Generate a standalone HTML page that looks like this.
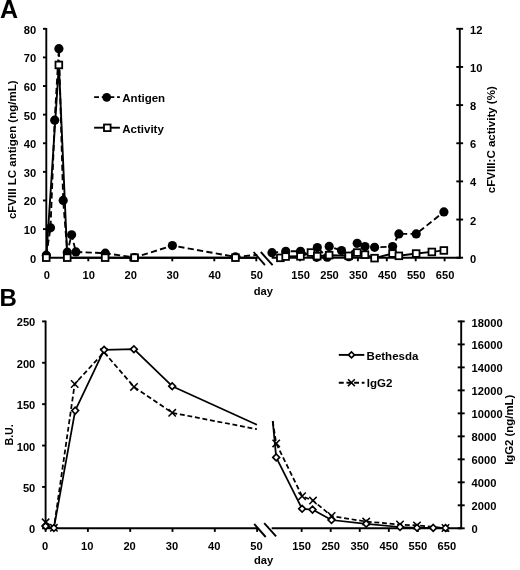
<!DOCTYPE html><html><head><meta charset="utf-8"><title>Figure</title>
<style>html,body{margin:0;padding:0;background:#fff;}svg{display:block;will-change:transform;}text{font-family:"Liberation Sans", sans-serif;font-weight:bold;fill:#000;}.t{font-size:11.5px;}.ax{stroke:#000;stroke-width:1.9;fill:none;stroke-linecap:butt;}.ln{stroke:#000;stroke-width:1.9;fill:none;stroke-linejoin:round;}.ds{stroke:#000;stroke-width:1.9;fill:none;stroke-dasharray:6.2 3.3;stroke-linejoin:round;}.lb{stroke-width:1.75;}.db{stroke-dasharray:4.9 2.75;}.sq{fill:#fff;stroke:#000;stroke-width:1.8;}.dm{fill:#fff;stroke:#000;stroke-width:1.65;}.xm{stroke:#000;stroke-width:1.5;fill:none;}</style></head><body>
<svg width="520" height="570" viewBox="0 0 520 570">
<rect width="520" height="570" fill="#fff"/>
<defs><filter id="soft" x="0" y="0" width="100%" height="100%" filterUnits="userSpaceOnUse" color-interpolation-filters="sRGB"><feGaussianBlur stdDeviation="0.35"/></filter></defs>
<g filter="url(#soft)">
<text x="-0.10" y="17.70" text-anchor="start" font-size="25" >A</text>
<line class="ax" x1="46.30" y1="28.00" x2="46.30" y2="258.50"/>
<line class="ax" x1="45.50" y1="257.70" x2="257.60" y2="257.70"/>
<line class="ax" x1="271.70" y1="257.70" x2="460.60" y2="257.70"/>
<line class="ax" x1="459.80" y1="28.00" x2="459.80" y2="258.50"/>
<line class="ax" x1="43.00" y1="257.70" x2="46.30" y2="257.70"/>
<text x="36.20" y="262.60" text-anchor="end" font-size="11.15" >0</text>
<line class="ax" x1="43.00" y1="229.09" x2="46.30" y2="229.09"/>
<text x="36.20" y="233.99" text-anchor="end" font-size="11.15" >10</text>
<line class="ax" x1="43.00" y1="200.47" x2="46.30" y2="200.47"/>
<text x="36.20" y="205.38" text-anchor="end" font-size="11.15" >20</text>
<line class="ax" x1="43.00" y1="171.86" x2="46.30" y2="171.86"/>
<text x="36.20" y="176.76" text-anchor="end" font-size="11.15" >30</text>
<line class="ax" x1="43.00" y1="143.25" x2="46.30" y2="143.25"/>
<text x="36.20" y="148.15" text-anchor="end" font-size="11.15" >40</text>
<line class="ax" x1="43.00" y1="114.64" x2="46.30" y2="114.64"/>
<text x="36.20" y="119.54" text-anchor="end" font-size="11.15" >50</text>
<line class="ax" x1="43.00" y1="86.03" x2="46.30" y2="86.03"/>
<text x="36.20" y="90.93" text-anchor="end" font-size="11.15" >60</text>
<line class="ax" x1="43.00" y1="57.41" x2="46.30" y2="57.41"/>
<text x="36.20" y="62.31" text-anchor="end" font-size="11.15" >70</text>
<line class="ax" x1="43.00" y1="28.80" x2="46.30" y2="28.80"/>
<text x="36.20" y="33.70" text-anchor="end" font-size="11.15" >80</text>
<line class="ax" x1="456.30" y1="257.70" x2="463.10" y2="257.70"/>
<text x="470.00" y="262.70" text-anchor="start" font-size="11.15" >0</text>
<line class="ax" x1="456.30" y1="219.55" x2="463.10" y2="219.55"/>
<text x="470.00" y="224.55" text-anchor="start" font-size="11.15" >2</text>
<line class="ax" x1="456.30" y1="181.40" x2="463.10" y2="181.40"/>
<text x="470.00" y="186.40" text-anchor="start" font-size="11.15" >4</text>
<line class="ax" x1="456.30" y1="143.25" x2="463.10" y2="143.25"/>
<text x="470.00" y="148.25" text-anchor="start" font-size="11.15" >6</text>
<line class="ax" x1="456.30" y1="105.10" x2="463.10" y2="105.10"/>
<text x="470.00" y="110.10" text-anchor="start" font-size="11.15" >8</text>
<line class="ax" x1="456.30" y1="66.95" x2="463.10" y2="66.95"/>
<text x="470.00" y="71.95" text-anchor="start" font-size="11.15" >10</text>
<line class="ax" x1="456.30" y1="28.80" x2="463.10" y2="28.80"/>
<text x="470.00" y="33.80" text-anchor="start" font-size="11.15" >12</text>
<line class="ax" x1="46.30" y1="257.70" x2="46.30" y2="261.30"/>
<text x="46.80" y="278.80" text-anchor="middle" font-size="11.15" >0</text>
<line class="ax" x1="88.30" y1="257.70" x2="88.30" y2="261.30"/>
<text x="88.80" y="278.80" text-anchor="middle" font-size="11.15" >10</text>
<line class="ax" x1="130.30" y1="257.70" x2="130.30" y2="261.30"/>
<text x="130.80" y="278.80" text-anchor="middle" font-size="11.15" >20</text>
<line class="ax" x1="172.30" y1="257.70" x2="172.30" y2="261.30"/>
<text x="172.80" y="278.80" text-anchor="middle" font-size="11.15" >30</text>
<line class="ax" x1="214.30" y1="257.70" x2="214.30" y2="261.30"/>
<text x="214.80" y="278.80" text-anchor="middle" font-size="11.15" >40</text>
<line class="ax" x1="256.30" y1="257.70" x2="256.30" y2="261.30"/>
<text x="256.80" y="278.80" text-anchor="middle" font-size="11.15" >50</text>
<line class="ax" x1="300.10" y1="257.70" x2="300.10" y2="261.30"/>
<text x="300.60" y="278.80" text-anchor="middle" font-size="11.15" >150</text>
<line class="ax" x1="329.00" y1="257.70" x2="329.00" y2="261.30"/>
<text x="329.50" y="278.80" text-anchor="middle" font-size="11.15" >250</text>
<line class="ax" x1="357.90" y1="257.70" x2="357.90" y2="261.30"/>
<text x="358.40" y="278.80" text-anchor="middle" font-size="11.15" >350</text>
<line class="ax" x1="386.80" y1="257.70" x2="386.80" y2="261.30"/>
<text x="387.30" y="278.80" text-anchor="middle" font-size="11.15" >450</text>
<line class="ax" x1="415.70" y1="257.70" x2="415.70" y2="261.30"/>
<text x="416.20" y="278.80" text-anchor="middle" font-size="11.15" >550</text>
<line class="ax" x1="444.60" y1="257.70" x2="444.60" y2="261.30"/>
<text x="445.10" y="278.80" text-anchor="middle" font-size="11.15" >650</text>
<text x="263.30" y="295.20" text-anchor="middle" font-size="11.15" >day</text>
<line class="ax" x1="253.60" y1="252.00" x2="265.00" y2="265.10"/>
<line class="ax" x1="260.80" y1="252.00" x2="272.60" y2="265.10"/>
<text class="t" transform="translate(16.3,149.8) rotate(-90)" text-anchor="middle" textLength="138.6" lengthAdjust="spacingAndGlyphs">cFVIII LC antigen (ng/mL)</text>
<text class="t" transform="translate(494.7,139.7) rotate(-90)" text-anchor="middle" textLength="107" lengthAdjust="spacingAndGlyphs">cFVIII:C activity (%)</text>
<polyline class="ln" points="46.3,257.7 58.9,65.0 67.3,257.7 105.1,257.7 134.5,257.7 235.4,257.7 257.3,257.7"/>
<polyline class="ds" points="46.3,255.2 50.5,227.8 54.7,120.2 58.9,48.7 63.2,200.4 67.3,252.2 71.6,234.8 75.9,251.9 105.3,253.2 134.5,257.5 172.4,245.6 235.4,256.9 257.3,254.9"/>
<polyline class="ln" points="280.4,257.9 285.7,256.5 300.5,256.3 311.0,252.5 317.3,256.2 329.2,255.2 348.7,255.8 357.3,252.6 365.0,254.7 374.6,258.1 392.6,253.5 398.9,255.8 416.2,253.5 431.9,251.9 443.9,250.4"/>
<polyline class="ds" points="272.0,252.7 285.8,251.3 300.5,251.3 316.6,257.3 317.3,247.6 327.2,257.2 329.2,246.4 341.5,250.5 348.8,256.7 357.2,243.3 365.0,246.6 374.6,247.3 392.6,246.6 398.9,233.9 416.2,233.9 443.9,211.9"/>
<circle cx="46.3" cy="255.2" r="4.6" fill="#000"/>
<circle cx="50.5" cy="227.8" r="4.6" fill="#000"/>
<circle cx="54.7" cy="120.2" r="4.6" fill="#000"/>
<circle cx="58.9" cy="48.7" r="4.6" fill="#000"/>
<circle cx="63.2" cy="200.4" r="4.6" fill="#000"/>
<circle cx="67.3" cy="252.2" r="4.6" fill="#000"/>
<circle cx="71.6" cy="234.8" r="4.6" fill="#000"/>
<circle cx="75.9" cy="251.9" r="4.6" fill="#000"/>
<circle cx="105.3" cy="253.2" r="4.6" fill="#000"/>
<circle cx="134.5" cy="257.5" r="4.6" fill="#000"/>
<circle cx="172.4" cy="245.6" r="4.6" fill="#000"/>
<circle cx="235.4" cy="256.9" r="4.6" fill="#000"/>
<circle cx="272.0" cy="252.7" r="4.6" fill="#000"/>
<circle cx="285.8" cy="251.3" r="4.6" fill="#000"/>
<circle cx="300.5" cy="251.3" r="4.6" fill="#000"/>
<circle cx="316.6" cy="257.3" r="4.6" fill="#000"/>
<circle cx="317.3" cy="247.6" r="4.6" fill="#000"/>
<circle cx="327.2" cy="257.2" r="4.6" fill="#000"/>
<circle cx="329.2" cy="246.4" r="4.6" fill="#000"/>
<circle cx="341.5" cy="250.5" r="4.6" fill="#000"/>
<circle cx="348.8" cy="256.7" r="4.6" fill="#000"/>
<circle cx="357.2" cy="243.3" r="4.6" fill="#000"/>
<circle cx="365.0" cy="246.6" r="4.6" fill="#000"/>
<circle cx="374.6" cy="247.3" r="4.6" fill="#000"/>
<circle cx="392.6" cy="246.6" r="4.6" fill="#000"/>
<circle cx="398.9" cy="233.9" r="4.6" fill="#000"/>
<circle cx="416.2" cy="233.9" r="4.6" fill="#000"/>
<circle cx="443.9" cy="211.9" r="4.6" fill="#000"/>
<rect class="sq" x="42.9" y="254.3" width="6.7" height="6.7"/>
<rect class="sq" x="55.5" y="61.6" width="6.7" height="6.7"/>
<rect class="sq" x="63.9" y="254.3" width="6.7" height="6.7"/>
<rect class="sq" x="101.8" y="254.3" width="6.7" height="6.7"/>
<rect class="sq" x="131.2" y="254.3" width="6.7" height="6.7"/>
<rect class="sq" x="232.1" y="254.3" width="6.7" height="6.7"/>
<rect class="sq" x="277.0" y="254.5" width="6.7" height="6.7"/>
<rect class="sq" x="282.3" y="253.2" width="6.7" height="6.7"/>
<rect class="sq" x="297.1" y="253.0" width="6.7" height="6.7"/>
<rect class="sq" x="307.6" y="249.2" width="6.7" height="6.7"/>
<rect class="sq" x="313.9" y="252.8" width="6.7" height="6.7"/>
<rect class="sq" x="325.8" y="251.8" width="6.7" height="6.7"/>
<rect class="sq" x="345.3" y="252.5" width="6.7" height="6.7"/>
<rect class="sq" x="353.9" y="249.2" width="6.7" height="6.7"/>
<rect class="sq" x="361.6" y="251.3" width="6.7" height="6.7"/>
<rect class="sq" x="371.2" y="254.8" width="6.7" height="6.7"/>
<rect class="sq" x="389.2" y="250.2" width="6.7" height="6.7"/>
<rect class="sq" x="395.5" y="252.5" width="6.7" height="6.7"/>
<rect class="sq" x="412.8" y="250.2" width="6.7" height="6.7"/>
<rect class="sq" x="428.5" y="248.6" width="6.7" height="6.7"/>
<rect class="sq" x="440.5" y="247.1" width="6.7" height="6.7"/>
<line class="ln" x1="94.1" y1="97.1" x2="119.9" y2="97.1" stroke-dasharray="4.9 2.75"/>
<circle cx="106.7" cy="97.3" r="4.4" fill="#000"/>
<text x="122.30" y="102.10" text-anchor="start" font-size="11.5" >Antigen</text>
<line class="ln" x1="94.10" y1="127.70" x2="119.90" y2="127.70"/>
<rect class="sq" x="104.0" y="124.5" width="6.6" height="6.6"/>
<text x="122.30" y="132.50" text-anchor="start" font-size="11.5" >Activity</text>
<text x="-0.40" y="306.40" text-anchor="start" font-size="24" >B</text>
<line class="ax" x1="45.60" y1="320.60" x2="45.60" y2="529.10"/>
<line class="ax" x1="44.80" y1="528.30" x2="257.60" y2="528.30"/>
<line class="ax" x1="271.70" y1="528.30" x2="462.00" y2="528.30"/>
<line class="ax" x1="461.20" y1="320.60" x2="461.20" y2="529.10"/>
<line class="ax" x1="42.10" y1="528.30" x2="45.60" y2="528.30"/>
<text x="35.30" y="533.30" text-anchor="end" font-size="11.15" >0</text>
<line class="ax" x1="42.10" y1="486.92" x2="45.60" y2="486.92"/>
<text x="35.30" y="491.92" text-anchor="end" font-size="11.15" >50</text>
<line class="ax" x1="42.10" y1="445.54" x2="45.60" y2="445.54"/>
<text x="35.30" y="450.54" text-anchor="end" font-size="11.15" >100</text>
<line class="ax" x1="42.10" y1="404.16" x2="45.60" y2="404.16"/>
<text x="35.30" y="409.16" text-anchor="end" font-size="11.15" >150</text>
<line class="ax" x1="42.10" y1="362.78" x2="45.60" y2="362.78"/>
<text x="35.30" y="367.78" text-anchor="end" font-size="11.15" >200</text>
<line class="ax" x1="42.10" y1="321.40" x2="45.60" y2="321.40"/>
<text x="35.30" y="326.40" text-anchor="end" font-size="11.15" >250</text>
<line class="ax" x1="457.70" y1="528.30" x2="464.70" y2="528.30"/>
<text x="471.60" y="533.40" text-anchor="start" font-size="11.15" >0</text>
<line class="ax" x1="457.70" y1="505.31" x2="464.70" y2="505.31"/>
<text x="471.60" y="510.41" text-anchor="start" font-size="11.15" >2000</text>
<line class="ax" x1="457.70" y1="482.32" x2="464.70" y2="482.32"/>
<text x="471.60" y="487.42" text-anchor="start" font-size="11.15" >4000</text>
<line class="ax" x1="457.70" y1="459.33" x2="464.70" y2="459.33"/>
<text x="471.60" y="464.43" text-anchor="start" font-size="11.15" >6000</text>
<line class="ax" x1="457.70" y1="436.34" x2="464.70" y2="436.34"/>
<text x="471.60" y="441.44" text-anchor="start" font-size="11.15" >8000</text>
<line class="ax" x1="457.70" y1="413.36" x2="464.70" y2="413.36"/>
<text x="471.60" y="418.46" text-anchor="start" font-size="11.15" >10000</text>
<line class="ax" x1="457.70" y1="390.37" x2="464.70" y2="390.37"/>
<text x="471.60" y="395.47" text-anchor="start" font-size="11.15" >12000</text>
<line class="ax" x1="457.70" y1="367.38" x2="464.70" y2="367.38"/>
<text x="471.60" y="372.48" text-anchor="start" font-size="11.15" >14000</text>
<line class="ax" x1="457.70" y1="344.39" x2="464.70" y2="344.39"/>
<text x="471.60" y="349.49" text-anchor="start" font-size="11.15" >16000</text>
<line class="ax" x1="457.70" y1="321.40" x2="464.70" y2="321.40"/>
<text x="471.60" y="326.50" text-anchor="start" font-size="11.15" >18000</text>
<line class="ax" x1="45.60" y1="528.30" x2="45.60" y2="531.90"/>
<text x="45.00" y="550.10" text-anchor="middle" font-size="11.15" >0</text>
<line class="ax" x1="87.90" y1="528.30" x2="87.90" y2="531.90"/>
<text x="87.30" y="550.10" text-anchor="middle" font-size="11.15" >10</text>
<line class="ax" x1="130.20" y1="528.30" x2="130.20" y2="531.90"/>
<text x="129.60" y="550.10" text-anchor="middle" font-size="11.15" >20</text>
<line class="ax" x1="172.50" y1="528.30" x2="172.50" y2="531.90"/>
<text x="171.90" y="550.10" text-anchor="middle" font-size="11.15" >30</text>
<line class="ax" x1="214.80" y1="528.30" x2="214.80" y2="531.90"/>
<text x="214.20" y="550.10" text-anchor="middle" font-size="11.15" >40</text>
<line class="ax" x1="257.10" y1="528.30" x2="257.10" y2="531.90"/>
<text x="256.50" y="550.10" text-anchor="middle" font-size="11.15" >50</text>
<line class="ax" x1="301.65" y1="528.30" x2="301.65" y2="531.90"/>
<text x="301.65" y="550.10" text-anchor="middle" font-size="11.15" >150</text>
<line class="ax" x1="330.70" y1="528.30" x2="330.70" y2="531.90"/>
<text x="330.70" y="550.10" text-anchor="middle" font-size="11.15" >250</text>
<line class="ax" x1="359.75" y1="528.30" x2="359.75" y2="531.90"/>
<text x="359.75" y="550.10" text-anchor="middle" font-size="11.15" >350</text>
<line class="ax" x1="388.80" y1="528.30" x2="388.80" y2="531.90"/>
<text x="388.80" y="550.10" text-anchor="middle" font-size="11.15" >450</text>
<line class="ax" x1="417.85" y1="528.30" x2="417.85" y2="531.90"/>
<text x="417.85" y="550.10" text-anchor="middle" font-size="11.15" >550</text>
<line class="ax" x1="446.90" y1="528.30" x2="446.90" y2="531.90"/>
<text x="446.90" y="550.10" text-anchor="middle" font-size="11.15" >650</text>
<text x="263.60" y="564.20" text-anchor="middle" font-size="11.15" >day</text>
<line class="ax" x1="254.20" y1="524.00" x2="265.70" y2="537.00"/>
<line class="ax" x1="264.20" y1="523.20" x2="276.10" y2="536.40"/>
<text class="t" transform="translate(12.9,434.9) rotate(-90)" text-anchor="middle" textLength="21.3" lengthAdjust="spacingAndGlyphs">B.U.</text>
<text class="t" transform="translate(513.4,429.8) rotate(-90)" text-anchor="middle" textLength="70" lengthAdjust="spacingAndGlyphs">IgG2 (ng/mL)</text>
<polyline class="ln lb" points="45.6,526.2 53.9,528.0 75.2,410.6 104.1,349.8 133.9,349.2 172.2,386.2 256.9,424.8"/>
<polyline class="ds lb db" points="45.6,522.3 53.9,527.8 74.7,384.0 104.0,352.2 134.0,386.9 172.2,412.8 256.9,429.2"/>
<polyline class="ln lb" points="272.7,421.0 276.2,457.4 302.1,508.8 312.5,509.6 331.5,520.0 366.2,523.8 400.0,527.0 417.0,527.8 433.2,527.9 445.5,528.0"/>
<polyline class="ds lb db" points="272.7,421.0 276.2,443.4 302.1,496.2 313.0,500.6 331.6,516.0 366.2,521.6 400.0,524.5 417.0,525.4 445.5,528.0"/>
<path class="xm" d="M41.9,518.6 L49.3,526.0 M41.9,526.0 L49.3,518.6"/>
<path class="xm" d="M50.2,524.1 L57.6,531.5 M50.2,531.5 L57.6,524.1"/>
<path class="xm" d="M71.0,380.3 L78.4,387.7 M71.0,387.7 L78.4,380.3"/>
<path class="xm" d="M100.3,348.5 L107.7,355.9 M100.3,355.9 L107.7,348.5"/>
<path class="xm" d="M130.3,383.2 L137.7,390.6 M130.3,390.6 L137.7,383.2"/>
<path class="xm" d="M168.5,409.1 L175.9,416.5 M168.5,416.5 L175.9,409.1"/>
<path class="xm" d="M272.5,439.7 L279.9,447.1 M272.5,447.1 L279.9,439.7"/>
<path class="xm" d="M298.4,492.5 L305.8,499.9 M298.4,499.9 L305.8,492.5"/>
<path class="xm" d="M309.3,496.9 L316.7,504.3 M309.3,504.3 L316.7,496.9"/>
<path class="xm" d="M327.9,512.3 L335.3,519.7 M327.9,519.7 L335.3,512.3"/>
<path class="xm" d="M362.5,517.9 L369.9,525.3 M362.5,525.3 L369.9,517.9"/>
<path class="xm" d="M396.3,520.8 L403.7,528.2 M396.3,528.2 L403.7,520.8"/>
<path class="xm" d="M413.3,521.7 L420.7,529.1 M413.3,529.1 L420.7,521.7"/>
<path class="xm" d="M441.8,524.3 L449.2,531.7 M441.8,531.7 L449.2,524.3"/>
<path class="dm" d="M42.2,526.2 L45.6,522.8 L49.0,526.2 L45.6,529.6 Z"/>
<path class="dm" d="M50.5,528.0 L53.9,524.6 L57.3,528.0 L53.9,531.4 Z"/>
<path class="dm" d="M71.8,410.6 L75.2,407.2 L78.6,410.6 L75.2,414.0 Z"/>
<path class="dm" d="M100.7,349.8 L104.1,346.4 L107.5,349.8 L104.1,353.2 Z"/>
<path class="dm" d="M130.5,349.2 L133.9,345.8 L137.3,349.2 L133.9,352.6 Z"/>
<path class="dm" d="M168.8,386.2 L172.2,382.8 L175.6,386.2 L172.2,389.6 Z"/>
<path class="dm" d="M272.8,457.4 L276.2,454.0 L279.6,457.4 L276.2,460.8 Z"/>
<path class="dm" d="M298.7,508.8 L302.1,505.4 L305.5,508.8 L302.1,512.2 Z"/>
<path class="dm" d="M309.1,509.6 L312.5,506.2 L315.9,509.6 L312.5,513.0 Z"/>
<path class="dm" d="M328.1,520.0 L331.5,516.6 L334.9,520.0 L331.5,523.4 Z"/>
<path class="dm" d="M362.8,523.8 L366.2,520.4 L369.6,523.8 L366.2,527.2 Z"/>
<path class="dm" d="M396.6,527.0 L400.0,523.6 L403.4,527.0 L400.0,530.4 Z"/>
<path class="dm" d="M413.6,527.8 L417.0,524.4 L420.4,527.8 L417.0,531.2 Z"/>
<path class="dm" d="M429.8,527.9 L433.2,524.5 L436.6,527.9 L433.2,531.3 Z"/>
<path class="dm" d="M442.1,528.0 L445.5,524.6 L448.9,528.0 L445.5,531.4 Z"/>
<line class="ln" x1="338.80" y1="354.90" x2="364.30" y2="354.90"/>
<path class="dm" d="M348.5,354.9 L351.5,351.9 L354.5,354.9 L351.5,357.9 Z"/>
<text x="366.60" y="359.50" text-anchor="start" font-size="11.5" >Bethesda</text>
<line class="ln" x1="338.8" y1="382.7" x2="364.5" y2="382.7" stroke-dasharray="4.9 2.75"/>
<path class="xm" d="M348.0,379.3 L354.8,386.1 M348.0,386.1 L354.8,379.3"/>
<text x="366.80" y="387.30" text-anchor="start" font-size="11.5" >IgG2</text>
</g></svg></body></html>
